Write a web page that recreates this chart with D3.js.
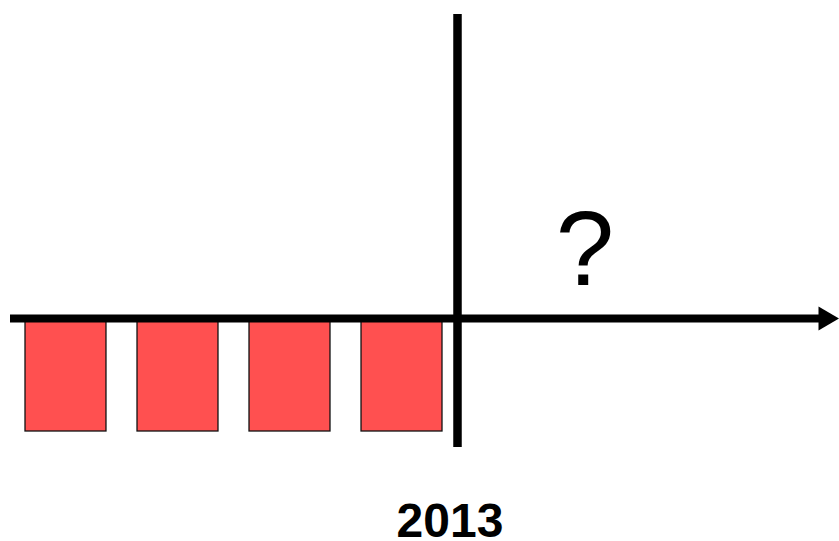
<!DOCTYPE html>
<html><head><meta charset="utf-8">
<script src="https://cdn.jsdelivr.net/npm/d3@7"></script>
<style>body{margin:0;background:#fff;}svg{display:block;}</style>
</head><body>
<svg id="c" width="839" height="541"></svg>
<script>
const categories = ["Q1", "Q2", "Q3", "Q4"];
const values = [-1, -1, -1, -1];
const yearLabel = "2013";
const futureLabel = "?";

const svg = d3.select("#c");
const x = d3.scaleBand().domain(categories).range([25, 442]).paddingInner(0.277).paddingOuter(0);
const y = d3.scaleLinear().domain([-1, 0]).range([431, 318.5]);

// bars
svg.append("g").selectAll("rect").data(values).join("rect")
  .attr("x", (d, i) => x(categories[i]))
  .attr("y", d => y(Math.max(0, d)))
  .attr("width", x.bandwidth())
  .attr("height", d => Math.abs(y(d) - y(0)))
  .attr("fill", "#FF5050")
  .attr("stroke", "#111")
  .attr("stroke-width", 1.3);

// horizontal axis with arrow
const y0 = y(0);
svg.append("line").attr("x1", 10).attr("x2", 822).attr("y1", y0).attr("y2", y0)
  .attr("stroke", "#000").attr("stroke-width", 8);
svg.append("path")
  .attr("d", `M818.5,${y0 - 12}L839,${y0}L818.5,${y0 + 12}Z`)
  .attr("fill", "#000");

// vertical divider
svg.append("line").attr("x1", 457.5).attr("x2", 457.5).attr("y1", 14).attr("y2", 447)
  .attr("stroke", "#000").attr("stroke-width", 8.5);

// question mark
svg.append("text").attr("x", 585).attr("y", 285).attr("text-anchor", "middle")
  .attr("font-family", "Liberation Sans, Arial, sans-serif").attr("font-size", 105)
  .text(futureLabel);

// year label
svg.append("text").attr("x", 450).attr("y", 537)
  .attr("text-anchor", "middle")
  .attr("font-family", "Liberation Sans, Arial, sans-serif").attr("font-weight", "bold")
  .attr("font-size", 48)
  .text(yearLabel);
</script>
</body></html>
